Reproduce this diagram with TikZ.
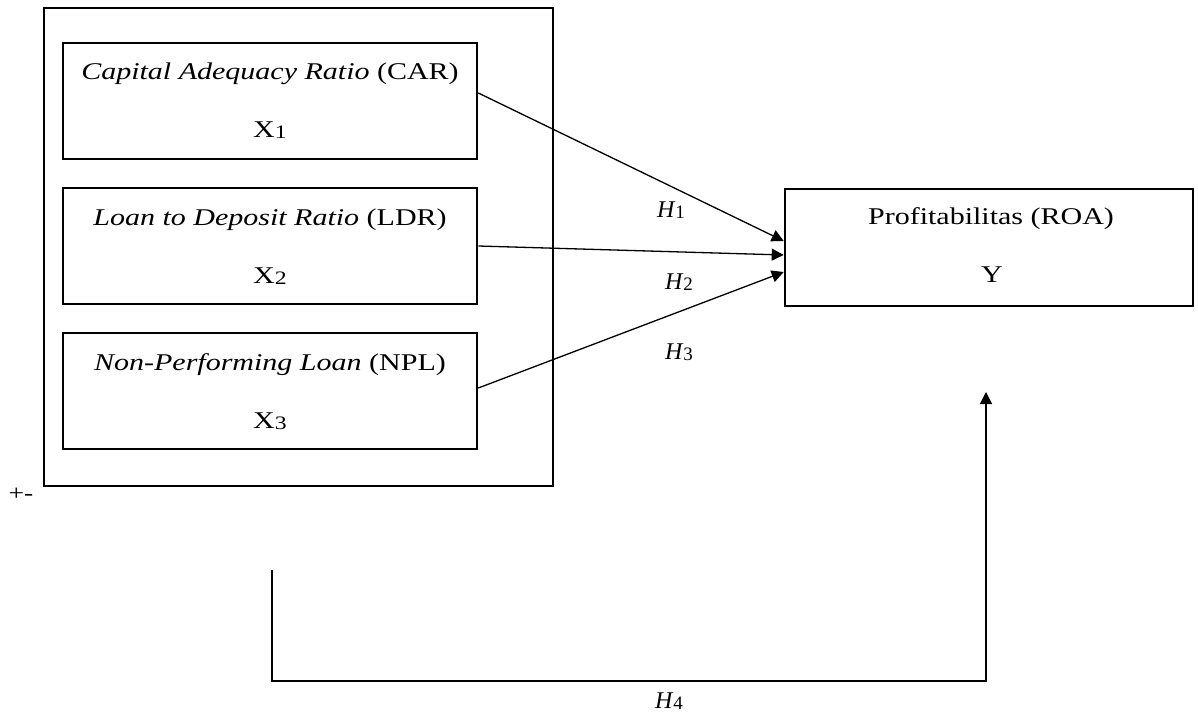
\documentclass[tikz,border=0pt]{standalone}
\usepackage{fontspec}
\setmainfont{Liberation Serif}
\newfontfamily\widefont[FakeStretch=1.25]{Liberation Serif}
\usetikzlibrary{arrows.meta}
\newcommand{\sub}[1]{{\fontsize{19}{19}\selectfont\raisebox{-1pt}{#1}}}
\begin{document}
\begin{tikzpicture}[x=1pt,y=-1pt,
  box/.style={draw,line width=2.6pt,rectangle,inner sep=0pt},
  varbox/.style={box,minimum width=414pt,minimum height=116pt},
  txt/.style={anchor=base,inner sep=0pt,font=\widefont\fontsize{24}{28}\selectfont},
  htxt/.style={anchor=base,inner sep=0pt,font=\fontsize{24}{28}\selectfont},
  conn/.style={line width=1.3pt},
  arr/.style={conn,-{Triangle[length=12pt,width=12pt]}}]
\useasboundingbox (0,0) rectangle (1198,722);
% outer frame
\node[box,minimum width=509pt,minimum height=478pt] (outer) at (298.5,247) {};
% variable boxes
\node[varbox] (car) at (270,101) {};
\node[varbox] (ldr) at (270,246) {};
\node[varbox] (npl) at (270,391) {};
\node[box,minimum width=408pt,minimum height=117pt] (roa) at (989,247.5) {};
% texts
\node[txt] (cart) at (270,80) {\textit{Capital Adequacy Ratio} (CAR)};
\node[txt] (carx) at (270,138) {X\sub{1}};
\node[txt] (ldrt) at (270,225) {\textit{Loan to Deposit Ratio} (LDR)};
\node[txt] (ldrx) at (270,283) {X\sub{2}};
\node[txt] (nplt) at (270,370) {\textit{Non-Performing Loan} (NPL)};
\node[txt] (nplx) at (270,428) {X\sub{3}};
\node[txt] (roat) at (991,224) {Profitabilitas (ROA)};
\node[txt] (roay) at (992,282) {Y};
% hypothesis labels
\node[htxt] (h1) at (671,217) {\textit{H}\sub{1}};
\node[htxt] (h2) at (679,289) {\textit{H}\sub{2}};
\node[htxt] (h3) at (679,359) {\textit{H}\sub{3}};
\node[htxt] (h4) at (669,708) {\textit{H}\sub{4}};
\node[anchor=base,inner sep=0pt,font=\widefont\fontsize{22}{24}\selectfont] (pm) at (21,500) {+-};
% connectors
\draw[arr] ([yshift=8pt]car.east) -- ([yshift=6.5pt]roa.west);
\draw[arr] (ldr.east) -- ([yshift=-7.5pt]roa.west);
\draw[arr] ([yshift=3pt]npl.east) -- ([yshift=-24.5pt]roa.west);
\coordinate (h4s) at (272,570);
\coordinate (h4e) at (986,392);
\draw[arr] (h4s) -- ++(0,111) -| (h4e);
\end{tikzpicture}
\end{document}
